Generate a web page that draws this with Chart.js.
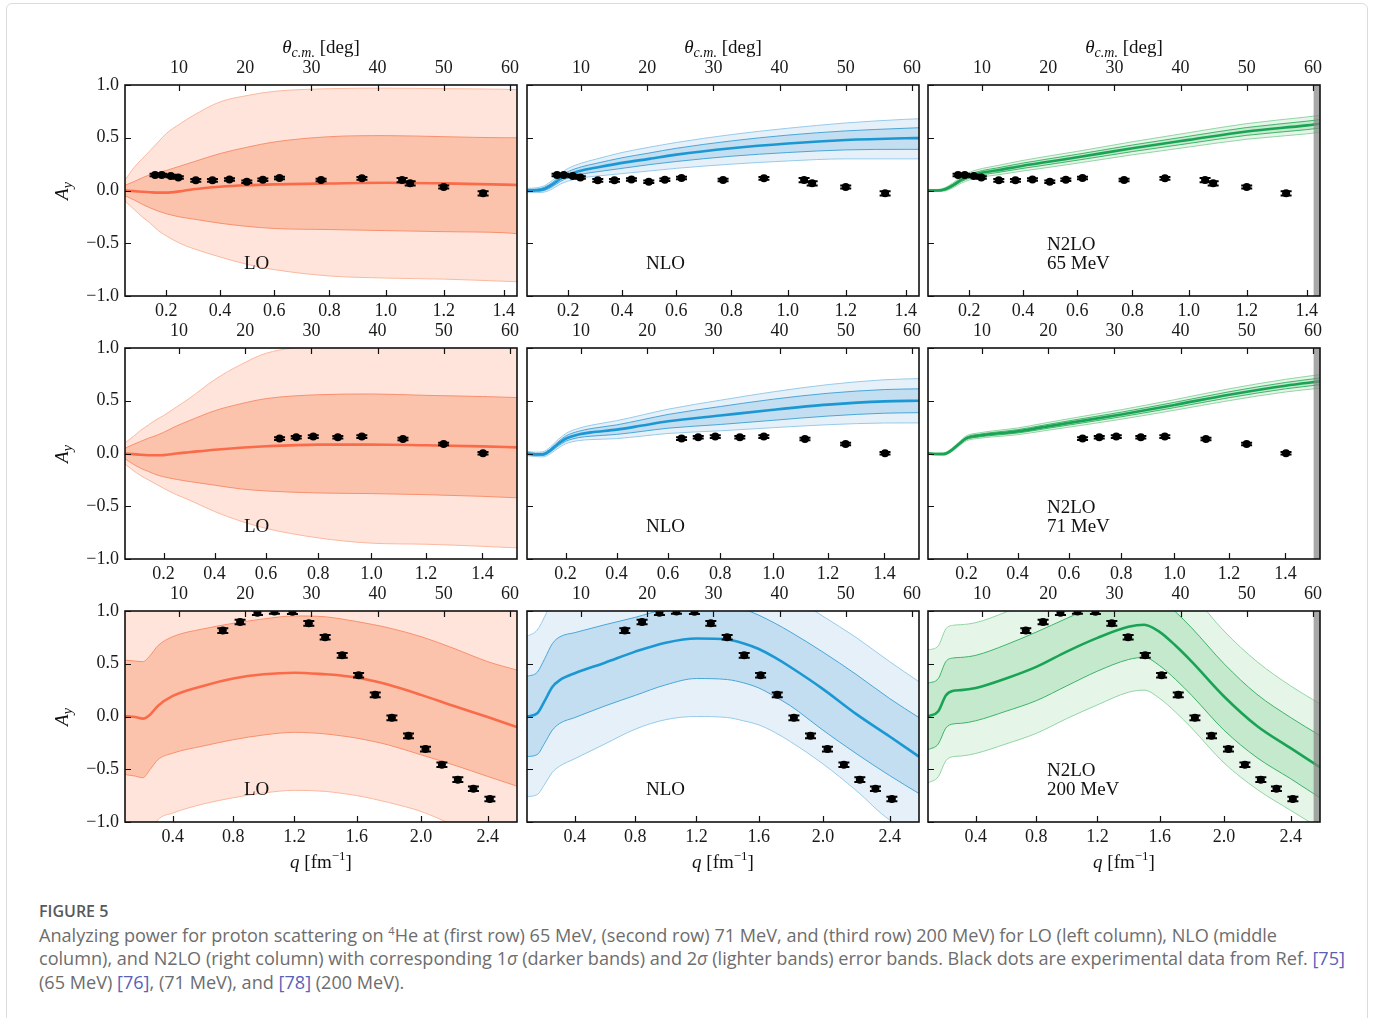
<!DOCTYPE html>
<html lang="en">
<head>
<meta charset="utf-8">
<title>Analyzing power for p-4He scattering</title>
<script src="https://cdn.jsdelivr.net/npm/chart.js@4.4.1/dist/chart.umd.min.js"></script>
<style>
  html, body { margin: 0; padding: 0; background: #fff; }
  #page { position: relative; width: 1373px; height: 1018px; overflow: hidden; }
  #frame { position: absolute; left: 6px; top: 3px; width: 1360px; height: 1040px;
           border: 1px solid #dcdcdc; border-radius: 6px; }
  canvas { position: absolute; }
  .math { position: absolute; font-family: "Liberation Serif", serif; font-size: 19px; color: #111;
          white-space: nowrap; transform: translate(-50%, -50%); }
  .math sub { font-size: 14px; vertical-align: -4px; line-height: 0; }
  .math sup { font-size: 13px; vertical-align: 8px; line-height: 0; }
  .ylab { transform: translate(-50%, -50%) rotate(-90deg); }
  .cap { position: absolute; left: 39px; font-family: "Open Sans", sans-serif; color: #6d6d6d;
         font-size: 18.1px; line-height: 24px; white-space: nowrap; }
  .cap.head { color: #585858; font-weight: 600; font-size: 16px; }
  .cap a { color: #5a5fb8; text-decoration: none; }
  .cap sup { font-size: 11px; vertical-align: 7px; line-height: 0; }
</style>
</head>
<body>
<div id="page">
  <div id="frame"></div>

  <div class="cap head" style="top:899px">FIGURE 5</div>
  <div class="cap" style="top:923px">Analyzing power for proton scattering on <sup>4</sup>He at (first row) 65 MeV, (second row) 71 MeV, and (third row) 200 MeV) for LO (left column), NLO (middle</div>
  <div class="cap" style="top:946px">column), and N2LO (right column) with corresponding 1<i>σ</i> (darker bands) and 2<i>σ</i> (lighter bands) error bands. Black dots are experimental data from Ref. <a>[75]</a></div>
  <div class="cap" style="top:970px">(65 MeV) <a>[76]</a>, (71 MeV), and <a>[78]</a> (200 MeV).</div>
</div>

<script>
// angle axis range shared by all panels (degrees, c.m.)
const thetaMin = 1.84;
const thetaMax = 61.06;
const cutoffTheta = 60.1;

// c.m. momentum per beam energy, fm^-1
const k65 = 1.42;
const k71 = 1.495;
const k200 = 2.53;

const thetaTicks = [10, 20, 30, 40, 50, 60];
const qTicksLow = [0.2, 0.4, 0.6, 0.8, 1.0, 1.2, 1.4];
const qTicksHigh = [0.4, 0.8, 1.2, 1.6, 2.0, 2.4];
const yTicks = [-1, -0.5, 0, 0.5, 1];

// ---- 65 MeV ----
const q65 = [0.046, 0.08, 0.11, 0.14, 0.17, 0.2, 0.25, 0.3, 0.4, 0.5, 0.6, 0.8, 1.0, 1.2, 1.4, 1.445];

const lo65Mid = [0.0, -0.006, -0.012, -0.017, -0.02, -0.02, -0.008, 0.012, 0.036, 0.05, 0.058, 0.067, 0.074, 0.068, 0.056, 0.052];
const lo65Hi1 = [0.05, 0.085, 0.12, 0.15, 0.17, 0.19, 0.23, 0.27, 0.35, 0.41, 0.46, 0.51, 0.52, 0.51, 0.50, 0.50];
const lo65Lo1 = [-0.05, -0.09, -0.13, -0.165, -0.195, -0.22, -0.25, -0.27, -0.31, -0.34, -0.36, -0.37, -0.38, -0.39, -0.40, -0.41];
const lo65Hi2 = [0.10, 0.22, 0.30, 0.38, 0.46, 0.54, 0.63, 0.71, 0.84, 0.90, 0.94, 0.965, 0.97, 0.965, 0.96, 0.955];
const lo65Lo2 = [-0.10, -0.18, -0.25, -0.31, -0.38, -0.43, -0.50, -0.55, -0.63, -0.70, -0.75, -0.81, -0.83, -0.84, -0.86, -0.865];

const nlo65Mid = [0.0, 0.002, 0.015, 0.055, 0.11, 0.15, 0.19, 0.215, 0.262, 0.30, 0.34, 0.40, 0.445, 0.478, 0.495, 0.497];
const nlo65Hi1 = [0.01, 0.012, 0.03, 0.075, 0.135, 0.18, 0.225, 0.255, 0.31, 0.355, 0.40, 0.47, 0.525, 0.565, 0.59, 0.595];
const nlo65Lo1 = [-0.01, -0.008, 0.0, 0.035, 0.085, 0.12, 0.155, 0.175, 0.21, 0.245, 0.275, 0.325, 0.36, 0.385, 0.39, 0.39];
const nlo65Hi2 = [0.02, 0.025, 0.045, 0.095, 0.16, 0.21, 0.26, 0.295, 0.36, 0.41, 0.455, 0.53, 0.59, 0.64, 0.675, 0.68];
const nlo65Lo2 = [-0.02, -0.02, -0.015, 0.015, 0.06, 0.09, 0.12, 0.135, 0.16, 0.185, 0.21, 0.25, 0.28, 0.30, 0.30, 0.30];

const n2lo65Mid = [0.0, 0.0, 0.012, 0.05, 0.10, 0.135, 0.17, 0.19, 0.235, 0.275, 0.315, 0.40, 0.48, 0.56, 0.617, 0.633];
const n2lo65Hi1 = [0.005, 0.005, 0.020, 0.062, 0.115, 0.153, 0.19, 0.212, 0.26, 0.302, 0.343, 0.431, 0.514, 0.597, 0.657, 0.673];
const n2lo65Lo1 = [-0.005, -0.005, 0.004, 0.038, 0.085, 0.117, 0.15, 0.168, 0.21, 0.248, 0.287, 0.369, 0.446, 0.523, 0.577, 0.593];
const n2lo65Hi2 = [0.01, 0.01, 0.028, 0.074, 0.13, 0.171, 0.21, 0.234, 0.285, 0.329, 0.371, 0.462, 0.548, 0.634, 0.697, 0.713];
const n2lo65Lo2 = [-0.01, -0.01, -0.004, 0.026, 0.07, 0.099, 0.13, 0.146, 0.185, 0.221, 0.259, 0.338, 0.412, 0.486, 0.537, 0.553];

const exp65Q = [0.158, 0.183, 0.217, 0.245, 0.31, 0.372, 0.435, 0.499, 0.558, 0.619, 0.77, 0.916, 1.057, 1.085, 1.2, 1.332];
const exp65Y = [0.146, 0.146, 0.137, 0.124, 0.096, 0.096, 0.105, 0.083, 0.102, 0.118, 0.099, 0.115, 0.099, 0.068, 0.033, -0.027];
const exp65Err = [0.012, 0.012, 0.012, 0.012, 0.012, 0.012, 0.012, 0.012, 0.012, 0.012, 0.012, 0.012, 0.02, 0.02, 0.015, 0.02];

// ---- 71 MeV ----
const q71 = [0.048, 0.08, 0.11, 0.14, 0.17, 0.2, 0.25, 0.3, 0.4, 0.5, 0.6, 0.8, 1.0, 1.2, 1.4, 1.52];

const lo71Mid = [0.0, -0.006, -0.012, -0.016, -0.017, -0.015, 0.0, 0.012, 0.036, 0.055, 0.068, 0.084, 0.086, 0.078, 0.068, 0.058];
const lo71Hi1 = [0.05, 0.085, 0.115, 0.145, 0.17, 0.2, 0.26, 0.31, 0.405, 0.47, 0.52, 0.557, 0.564, 0.551, 0.54, 0.53];
const lo71Lo1 = [-0.05, -0.1, -0.14, -0.17, -0.2, -0.22, -0.245, -0.265, -0.30, -0.335, -0.355, -0.374, -0.38, -0.39, -0.406, -0.42];
const lo71Hi2 = [0.10, 0.16, 0.22, 0.27, 0.32, 0.36, 0.44, 0.52, 0.70, 0.84, 0.95, 1.02, 1.03, 1.03, 1.02, 1.02];
const lo71Lo2 = [-0.10, -0.16, -0.21, -0.25, -0.29, -0.33, -0.39, -0.44, -0.55, -0.64, -0.71, -0.80, -0.85, -0.86, -0.88, -0.895];

const nlo71Mid = [0.0, -0.008, -0.008, 0.03, 0.09, 0.14, 0.18, 0.2, 0.226, 0.265, 0.305, 0.36, 0.415, 0.463, 0.494, 0.50];
const nlo71Hi1 = [0.008, 0.0, 0.002, 0.045, 0.11, 0.165, 0.21, 0.236, 0.271, 0.32, 0.37, 0.445, 0.515, 0.571, 0.606, 0.613];
const nlo71Lo1 = [-0.008, -0.016, -0.018, 0.015, 0.07, 0.115, 0.15, 0.164, 0.181, 0.21, 0.24, 0.275, 0.315, 0.355, 0.382, 0.387];
const nlo71Hi2 = [0.02, 0.012, 0.016, 0.062, 0.13, 0.188, 0.238, 0.268, 0.311, 0.365, 0.42, 0.505, 0.585, 0.653, 0.699, 0.71];
const nlo71Lo2 = [-0.02, -0.028, -0.032, -0.002, 0.05, 0.092, 0.122, 0.132, 0.141, 0.165, 0.19, 0.215, 0.245, 0.273, 0.289, 0.29];

const n2lo71Mid = [0.0, -0.005, -0.005, 0.03, 0.09, 0.145, 0.17, 0.185, 0.21, 0.25, 0.29, 0.37, 0.46, 0.557, 0.643, 0.684];
const n2lo71Hi1 = [0.005, 0.0, 0.001, 0.038, 0.10, 0.157, 0.183, 0.199, 0.226, 0.268, 0.31, 0.392, 0.485, 0.585, 0.673, 0.716];
const n2lo71Lo1 = [-0.005, -0.01, -0.011, 0.022, 0.08, 0.133, 0.157, 0.171, 0.194, 0.232, 0.27, 0.348, 0.435, 0.529, 0.613, 0.652];
const n2lo71Hi2 = [0.01, 0.005, 0.007, 0.046, 0.11, 0.169, 0.196, 0.213, 0.242, 0.286, 0.33, 0.415, 0.51, 0.613, 0.703, 0.748];
const n2lo71Lo2 = [-0.01, -0.015, -0.017, 0.014, 0.07, 0.121, 0.144, 0.157, 0.178, 0.214, 0.25, 0.325, 0.41, 0.501, 0.583, 0.62];

const exp71Q = [0.652, 0.716, 0.781, 0.874, 0.964, 1.116, 1.263, 1.402];
const exp71Y = [0.141, 0.153, 0.160, 0.153, 0.160, 0.137, 0.090, 0.002];
const exp71Err = [0.012, 0.012, 0.012, 0.012, 0.012, 0.012, 0.012, 0.012];

// ---- 200 MeV ----
const q200 = [0.081, 0.15, 0.2, 0.25, 0.3, 0.4, 0.6, 0.8, 1.0, 1.2, 1.4, 1.5, 1.6, 1.7, 1.8, 2.0, 2.2, 2.4, 2.57];

const lo200Mid = [0.005, -0.005, -0.02, 0.02, 0.10, 0.195, 0.29, 0.36, 0.40, 0.415, 0.40, 0.388, 0.37, 0.338, 0.30, 0.205, 0.10, -0.005, -0.10];
const lo200Hi1 = [0.535, 0.525, 0.52, 0.58, 0.67, 0.757, 0.83, 0.883, 0.925, 0.953, 0.945, 0.925, 0.90, 0.872, 0.84, 0.757, 0.645, 0.52, 0.44];
const lo200Lo1 = [-0.55, -0.565, -0.58, -0.50, -0.41, -0.347, -0.28, -0.22, -0.175, -0.15, -0.165, -0.183, -0.205, -0.235, -0.27, -0.363, -0.46, -0.568, -0.66];
const lo200Hi2 = [1.07, 1.06, 1.06, 1.14, 1.24, 1.32, 1.37, 1.41, 1.45, 1.49, 1.49, 1.46, 1.43, 1.405, 1.38, 1.31, 1.19, 1.08, 1.05];
const lo200Lo2 = [-1.2, -1.2, -1.22, -1.1, -0.98, -0.915, -0.83, -0.77, -0.725, -0.70, -0.71, -0.728, -0.75, -0.78, -0.815, -0.90, -1.03, -1.15, -1.25];

const nlo200Mid = [0.0, 0.03, 0.15, 0.28, 0.345, 0.41, 0.51, 0.615, 0.70, 0.74, 0.73, 0.695, 0.64, 0.56, 0.467, 0.26, 0.025, -0.19, -0.38];
const nlo200Hi1 = [0.38, 0.42, 0.55, 0.69, 0.755, 0.795, 0.87, 0.94, 1.02, 1.07, 1.06, 1.02, 0.96, 0.885, 0.80, 0.61, 0.40, 0.17, -0.01];
const nlo200Lo1 = [-0.38, -0.36, -0.25, -0.13, -0.065, -0.01, 0.10, 0.20, 0.30, 0.36, 0.35, 0.32, 0.27, 0.19, 0.10, -0.13, -0.35, -0.56, -0.73];
const nlo200Hi2 = [0.76, 0.82, 0.95, 1.1, 1.17, 1.2, 1.25, 1.3, 1.38, 1.42, 1.41, 1.36, 1.30, 1.22, 1.14, 0.95, 0.75, 0.52, 0.33];
const nlo200Lo2 = [-0.76, -0.74, -0.64, -0.53, -0.47, -0.40, -0.26, -0.12, -0.03, 0.0, -0.01, -0.04, -0.08, -0.15, -0.24, -0.45, -0.70, -0.98, -1.1];

const n2lo200Mid = [0.0, 0.05, 0.2, 0.245, 0.25, 0.27, 0.36, 0.47, 0.615, 0.745, 0.85, 0.87, 0.80, 0.67, 0.52, 0.19, -0.09, -0.30, -0.48];
const n2lo200Hi1 = [0.315, 0.36, 0.52, 0.555, 0.56, 0.58, 0.68, 0.80, 0.93, 1.06, 1.17, 1.19, 1.12, 0.99, 0.84, 0.50, 0.21, -0.01, -0.18];
const n2lo200Lo1 = [-0.315, -0.26, -0.11, -0.07, -0.065, -0.04, 0.05, 0.15, 0.29, 0.43, 0.54, 0.56, 0.48, 0.35, 0.20, -0.13, -0.39, -0.59, -0.77];
const n2lo200Hi2 = [0.63, 0.67, 0.83, 0.865, 0.87, 0.89, 0.99, 1.11, 1.24, 1.37, 1.48, 1.50, 1.43, 1.30, 1.16, 0.81, 0.52, 0.29, 0.12];
const n2lo200Lo2 = [-0.63, -0.57, -0.42, -0.38, -0.375, -0.35, -0.26, -0.16, -0.02, 0.11, 0.23, 0.25, 0.17, 0.04, -0.11, -0.44, -0.69, -0.89, -1.06];

const exp200Q = [0.731, 0.845, 0.959, 1.07, 1.187, 1.293, 1.398, 1.507, 1.611, 1.716, 1.82, 1.923, 2.027, 2.127, 2.223, 2.316, 2.413];
const exp200Y = [0.814, 0.896, 0.984, 0.995, 0.994, 0.883, 0.751, 0.580, 0.391, 0.205, -0.013, -0.183, -0.309, -0.457, -0.599, -0.685, -0.782];
const exp200Err = [0.022, 0.022, 0.022, 0.022, 0.022, 0.022, 0.022, 0.022, 0.022, 0.022, 0.022, 0.022, 0.022, 0.022, 0.022, 0.022, 0.022];

// colours per chiral order
const loColors = { line: '#fa6b4a', fill1: '#fcc3ac', fill2: '#fee4da', edge1: '#f9906f', edge2: '#fcb8a0' };
const nloColors = { line: '#1b98d3', fill1: '#c2def0', fill2: '#e5f0f9', edge1: '#4aa7da', edge2: '#97cbea' };
const n2loColors = { line: '#19a354', fill1: '#c4e9cd', fill2: '#e5f5e8', edge1: '#3eb56a', edge2: '#92d5a4' };

// page geometry of the plot boxes
const colLeft = [125, 527, 928];
const rowTop = [85, 348, 611];
const PLOT_W = 392;
const PLOT_H = 211;

const serif = '"Liberation Serif", "DejaVu Serif", serif';

// q = 2k sin(theta/2)  ->  theta in degrees
const toTheta = (q, k) => 2 * Math.asin(q / (2 * k)) * 180 / Math.PI;

const rows = [
  { k: k65, q: q65, qTicks: qTicksLow, expQ: exp65Q, expY: exp65Y, expErr: exp65Err, energy: '65 MeV',
    curves: [
      [lo65Lo2, lo65Hi2, lo65Lo1, lo65Hi1, lo65Mid],
      [nlo65Lo2, nlo65Hi2, nlo65Lo1, nlo65Hi1, nlo65Mid],
      [n2lo65Lo2, n2lo65Hi2, n2lo65Lo1, n2lo65Hi1, n2lo65Mid]] },
  { k: k71, q: q71, qTicks: qTicksLow, expQ: exp71Q, expY: exp71Y, expErr: exp71Err, energy: '71 MeV',
    curves: [
      [lo71Lo2, lo71Hi2, lo71Lo1, lo71Hi1, lo71Mid],
      [nlo71Lo2, nlo71Hi2, nlo71Lo1, nlo71Hi1, nlo71Mid],
      [n2lo71Lo2, n2lo71Hi2, n2lo71Lo1, n2lo71Hi1, n2lo71Mid]] },
  { k: k200, q: q200, qTicks: qTicksHigh, expQ: exp200Q, expY: exp200Y, expErr: exp200Err, energy: '200 MeV',
    curves: [
      [lo200Lo2, lo200Hi2, lo200Lo1, lo200Hi1, lo200Mid],
      [nlo200Lo2, nlo200Hi2, nlo200Lo1, nlo200Hi1, nlo200Mid],
      [n2lo200Lo2, n2lo200Hi2, n2lo200Lo1, n2lo200Hi1, n2lo200Mid]] },
];
const columns = [
  { name: 'LO', colors: loColors },
  { name: 'NLO', colors: nloColors },
  { name: 'N2LO', colors: n2loColors },
];

// inward ticks on bottom/top/left plus the box frame
const frameTicks = {
  id: 'frameTicks',
  afterDraw(chart) {
    const { ctx, chartArea: a, scales } = chart;
    const len = 6;
    ctx.save();
    ctx.strokeStyle = '#111';
    ctx.lineWidth = 1.2;
    ctx.beginPath();
    scales.x.ticks.forEach(t => {
      const p = Math.round(scales.x.getPixelForValue(t.value)) + 0.5;
      ctx.moveTo(p, a.bottom); ctx.lineTo(p, a.bottom - len);
    });
    scales.xTop.ticks.forEach(t => {
      const p = Math.round(scales.xTop.getPixelForValue(t.value)) + 0.5;
      ctx.moveTo(p, a.top); ctx.lineTo(p, a.top + len);
    });
    scales.y.ticks.forEach(t => {
      const p = Math.round(scales.y.getPixelForValue(t.value)) + 0.5;
      ctx.moveTo(a.left, p); ctx.lineTo(a.left + len, p);
    });
    ctx.stroke();
    ctx.lineWidth = 1.6;
    ctx.strokeRect(a.left, a.top, a.right - a.left, a.bottom - a.top);
    ctx.restore();
  }
};

// vertical error bars with caps for the experimental points
const errorBars = {
  id: 'errorBars',
  afterDatasetsDraw(chart) {
    const { ctx, chartArea: a, scales } = chart;
    ctx.save();
    ctx.beginPath();
    ctx.rect(a.left, a.top, a.right - a.left, a.bottom - a.top);
    ctx.clip();
    ctx.strokeStyle = '#000';
    ctx.lineWidth = 2;
    chart.data.datasets.forEach(ds => {
      if (!ds.errors) return;
      ds.data.forEach((pt, i) => {
        const x = scales.x.getPixelForValue(pt.x);
        const yHi = scales.y.getPixelForValue(pt.y + ds.errors[i]);
        const yLo = scales.y.getPixelForValue(pt.y - ds.errors[i]);
        ctx.beginPath();
        ctx.moveTo(x, yHi); ctx.lineTo(x, yLo);
        ctx.moveTo(x - 5.5, yHi); ctx.lineTo(x + 5.5, yHi);
        ctx.moveTo(x - 5.5, yLo); ctx.lineTo(x + 5.5, yLo);
        ctx.stroke();
      });
    });
    ctx.restore();
  }
};

// grey strip beyond the angular cut-off
const cutoffShade = {
  id: 'cutoffShade',
  afterDatasetsDraw(chart, args, opts) {
    if (opts.from == null) return;
    const { ctx, chartArea: a, scales } = chart;
    const x0 = scales.x.getPixelForValue(opts.from);
    ctx.save();
    ctx.fillStyle = 'rgba(135,135,135,0.72)';
    ctx.fillRect(x0, a.top, a.right - x0, a.bottom - a.top);
    ctx.restore();
  }
};

// order / energy label inside each panel
const panelText = {
  id: 'panelText',
  afterDatasetsDraw(chart, args, opts) {
    const { ctx, chartArea: a } = chart;
    ctx.save();
    ctx.font = '19px ' + serif;
    ctx.fillStyle = '#111';
    ctx.textBaseline = 'middle';
    const n = opts.lines.length;
    opts.lines.forEach((t, i) => ctx.fillText(t, a.left + 119, a.top + 179 - (n - 1 - i) * 19));
    ctx.restore();
  }
};

function bandDatasets(row, curves, c) {
  const pts = arr => arr.map((y, i) => ({ x: toTheta(row.q[i], row.k), y }));
  const [lo2, hi2, lo1, hi1, mid] = curves;
  return [
    { data: pts(lo2), borderColor: c.edge2, borderWidth: 1, fill: false, order: 5 },
    { data: pts(hi2), borderColor: c.edge2, borderWidth: 1, backgroundColor: c.fill2, fill: 1, order: 4 },
    { data: pts(lo1), borderColor: c.edge1, borderWidth: 1, fill: false, order: 3 },
    { data: pts(hi1), borderColor: c.edge1, borderWidth: 1, backgroundColor: c.fill1, fill: 3, order: 2 },
    { data: pts(mid), borderColor: c.line, borderWidth: 2.6, fill: false, order: 1 },
  ];
}

function makePanel(r, c) {
  const row = rows[r];
  const col = columns[c];
  const padL = c === 0 ? 90 : 10, padR = 10, padT = 40, padB = 35;

  const cv = document.createElement('canvas');
  cv.width = padL + PLOT_W + padR;
  cv.height = padT + PLOT_H + padB;
  cv.style.left = (colLeft[c] - padL) + 'px';
  cv.style.top = (rowTop[r] - padT) + 'px';
  document.getElementById('page').appendChild(cv);

  const expData = row.expQ.map((q, i) => ({ x: toTheta(q, row.k), y: row.expY[i] }));
  const datasets = [
    { data: expData, errors: row.expErr, showLine: false, pointRadius: 4,
      pointBackgroundColor: '#000', pointBorderColor: '#000', pointBorderWidth: 0, order: 0 },
    ...bandDatasets(row, row.curves[c], col.colors),
  ];

  const tickFont = { family: serif, size: 18 };
  const labels = c === 2 ? ['N2LO', row.energy] : [col.name];

  new Chart(cv, {
    type: 'line',
    data: { datasets },
    options: {
      responsive: false,
      animation: false,
      events: [],
      layout: { padding: { left: 0, right: padR, top: 0, bottom: 0 }, autoPadding: false },
      elements: { point: { radius: 0 }, line: { cubicInterpolationMode: 'monotone' } },
      plugins: {
        legend: { display: false },
        tooltip: { enabled: false },
        filler: { propagate: false, drawTime: 'beforeDatasetsDraw' },
        panelText: { lines: labels },
        cutoffShade: { from: c === 2 ? cutoffTheta : null },
      },
      scales: {
        x: {
          type: 'linear', position: 'bottom', min: thetaMin, max: thetaMax,
          grid: { display: false, drawTicks: false }, border: { display: false },
          ticks: { font: tickFont, color: '#1a1a1a', padding: 4, autoSkip: false, maxRotation: 0,
                   callback: (v, i) => row.qTicks[i].toFixed(1) },
          afterBuildTicks: s => { s.ticks = row.qTicks.map(q => ({ value: toTheta(q, row.k) })); },
          afterFit: s => { s.height = padB; },
        },
        xTop: {
          type: 'linear', position: 'top', min: thetaMin, max: thetaMax,
          grid: { display: false, drawTicks: false }, border: { display: false },
          ticks: { font: tickFont, color: '#1a1a1a', padding: 6, autoSkip: false, maxRotation: 0,
                   callback: v => String(v) },
          afterBuildTicks: s => { s.ticks = thetaTicks.map(v => ({ value: v })); },
          afterFit: s => { s.height = padT; },
        },
        y: {
          type: 'linear', position: 'left', min: -1, max: 1,
          grid: { display: false, drawTicks: false }, border: { display: false },
          ticks: { display: c === 0, font: tickFont, color: '#1a1a1a', padding: 6,
                   callback: v => (v < 0 ? '\u2212' : '') + Math.abs(v).toFixed(1) },
          afterBuildTicks: s => { s.ticks = yTicks.map(v => ({ value: v })); },
          afterFit: s => { s.width = padL; },
        },
      },
    },
    plugins: [frameTicks, errorBars, cutoffShade, panelText],
  });
}

// axis titles as page text
function addMath(html, x, y, extraClass) {
  const d = document.createElement('div');
  d.className = 'math' + (extraClass ? ' ' + extraClass : '');
  d.style.left = x + 'px';
  d.style.top = y + 'px';
  d.innerHTML = html;
  document.getElementById('page').appendChild(d);
}

for (let r = 0; r < 3; r++) {
  for (let c = 0; c < 3; c++) makePanel(r, c);
}
colLeft.forEach(x => {
  addMath('<i>θ</i><sub><i>c.m.</i></sub> [deg]', x + PLOT_W / 2, 47);
  addMath('<i>q</i> [fm<sup>\u22121</sup>]', x + PLOT_W / 2, 862);
});
rowTop.forEach(y => addMath('<i>A</i><sub><i>y</i></sub>', 62, y + PLOT_H / 2, 'ylab'));
</script>
</body>
</html>
